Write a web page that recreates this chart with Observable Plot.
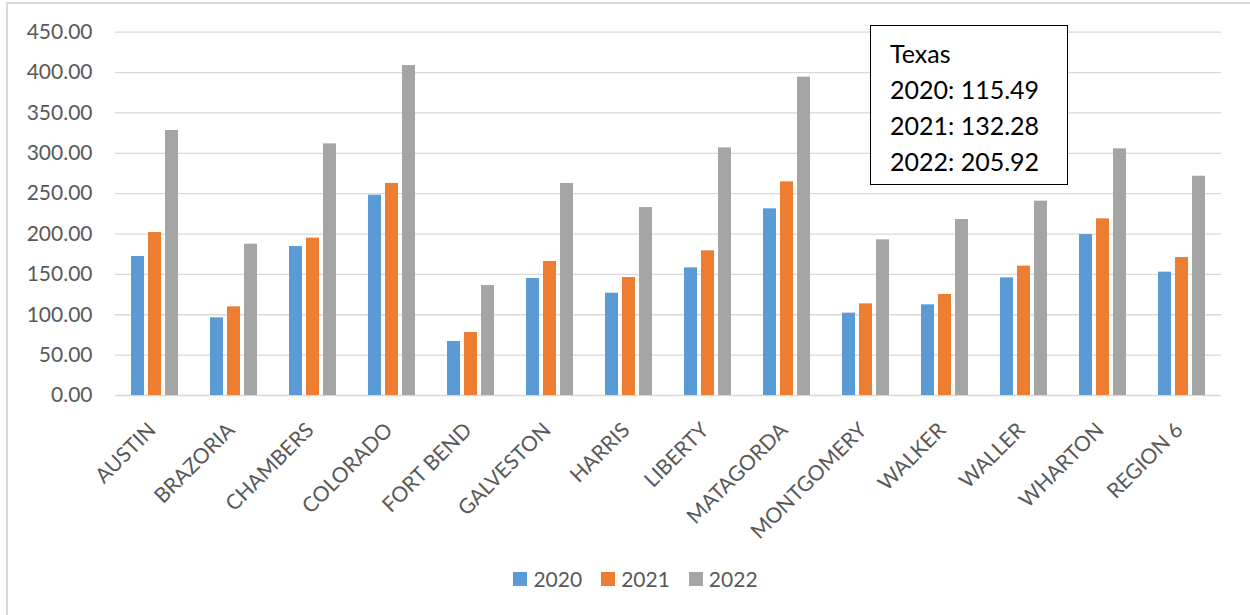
<!DOCTYPE html>
<html><head><meta charset="utf-8">
<script src="https://cdn.jsdelivr.net/npm/d3@7"></script>
<script src="https://cdn.jsdelivr.net/npm/@observablehq/plot@0.6"></script>
<style>
html,body{margin:0;padding:0;background:#fff;width:1250px;height:615px;overflow:hidden;}
#frame{position:absolute;left:6px;top:2px;width:1260px;height:630px;border-left:2px solid #d9d9d9;border-top:2px solid #d9d9d9;}
#chart{position:absolute;left:0;top:0;}
#texas{position:absolute;left:870px;top:25px;width:198px;height:160px;box-sizing:border-box;border:1.5px solid #000;padding:9px 0 0 19px;font-family:Lato;font-size:25px;line-height:36px;color:#000;background:#fff;white-space:nowrap;}
#legend{position:absolute;left:20px;top:562px;width:1250px;display:flex;justify-content:center;}
.lg-swatches{font-family:Lato !important;font-size:21px !important;color:#595959 !important;margin:0 !important;}
.lg-swatch{margin-right:19px !important;}
.lg-swatch > svg{margin-right:6px !important;}
</style></head><body>
<div id="frame"></div>
<div id="chart"></div>
<div id="texas"></div>
<div id="legend"></div>
<script>
const counties = ["AUSTIN","BRAZORIA","CHAMBERS","COLORADO","FORT BEND","GALVESTON","HARRIS","LIBERTY","MATAGORDA","MONTGOMERY","WALKER","WALLER","WHARTON","REGION 6"];
const years = ["2020","2021","2022"];
const v2020 = [172.2, 96.2, 184.5, 248.1, 66.9, 144.9, 126.7, 158.1, 231.2, 102.0, 112.3, 145.7, 199.4, 152.8];
const v2021 = [201.9, 109.8, 194.9, 262.6, 78.0, 166.0, 146.1, 179.2, 264.6, 113.5, 125.1, 160.2, 218.8, 170.9];
const v2022 = [328.2, 187.4, 311.7, 408.7, 136.2, 262.6, 232.8, 306.7, 394.3, 192.8, 218.0, 240.7, 305.5, 271.6];
const colors = ["#5B9BD5","#ED7D31","#A5A5A5"];
const yTicks = [0,50,100,150,200,250,300,350,400,450];
const texasTitle = "Texas";
const texasValues = [115.49, 132.28, 205.92];

const series = [v2020, v2021, v2022];
const data = [];
counties.forEach((c, i) => years.forEach((y, j) => data.push({county: c, year: y, value: series[j][i]})));

const chart = Plot.plot({
  width: 1250,
  height: 550,
  marginLeft: 113,
  marginRight: 27,
  marginTop: 31.7,
  marginBottom: 155,
  style: {fontFamily: "Lato", background: "transparent"},
  fx: {domain: counties, paddingInner: 0, paddingOuter: 0, axis: null},
  x: {domain: years, paddingInner: 0.227, paddingOuter: 0.857, axis: null},
  y: {domain: [0, 450], axis: null},
  color: {domain: years, range: colors},
  marks: [
    Plot.ruleY(yTicks, {stroke: "#d9d9d9", strokeWidth: 1.3}),
    Plot.barY(data, {fx: "county", x: "year", y: "value", fill: "year"}),
    Plot.axisY({ticks: yTicks, tickFormat: d => d.toFixed(2), tickSize: 0, tickPadding: 23, fontSize: 21, fill: "#595959", label: null}),
    Plot.text(counties, {fx: d => d, text: d => d, frameAnchor: "bottom", rotate: -45, textAnchor: "end", lineAnchor: "bottom", dx: 2, dy: 36, fontSize: 21, fill: "#595959"})
  ]
});
document.getElementById("chart").appendChild(chart);

const tx = document.getElementById("texas");
tx.innerHTML = [texasTitle, ...years.map((y, i) => `${y}: ${texasValues[i].toFixed(2)}`)].map(s => `<div>${s}</div>`).join("");

const lg = Plot.legend({color: {domain: years, range: colors}, legend: "swatches", swatchSize: 14, className: "lg"});
document.getElementById("legend").appendChild(lg);
</script>
</body></html>
